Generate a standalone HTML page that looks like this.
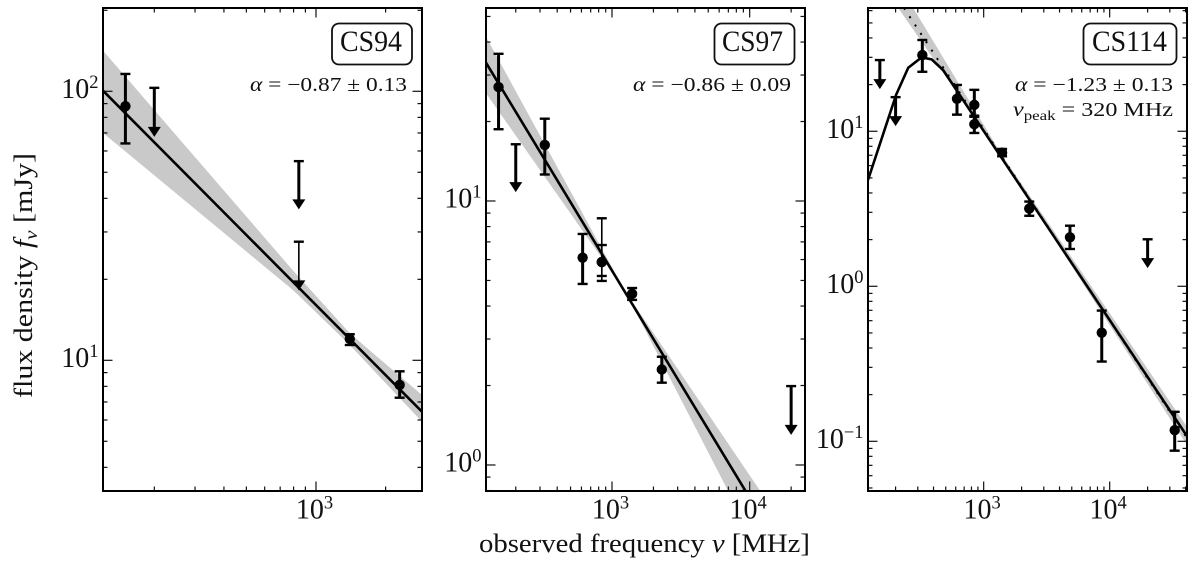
<!DOCTYPE html>
<html lang="en">
<head>
<meta charset="utf-8">
<title>Radio spectra of CS94, CS97 and CS114</title>
<style>
  html, body { margin: 0; padding: 0; background: #fff; }
  body { width: 1200px; height: 564px; overflow: hidden; }
  svg { display: block; }
  text { font-family: "Liberation Serif", "DejaVu Serif", serif; fill: #111; }
</style>
</head>
<body>
<svg id="fig" xmlns="http://www.w3.org/2000/svg" width="1200" height="564" viewBox="0 0 1200 564">
  <defs>
    <clipPath id="clip-cs94"><rect x="103" y="8" width="319" height="483"/></clipPath>
    <clipPath id="clip-cs97"><rect x="486" y="8" width="319" height="483"/></clipPath>
    <clipPath id="clip-cs114"><rect x="868" y="8" width="319" height="483"/></clipPath>
  </defs>
  <rect x="0" y="0" width="1200" height="564" fill="#fff"/>

  <text transform="translate(32,398) rotate(-90)" font-size="26" textLength="245" lengthAdjust="spacingAndGlyphs">flux density <tspan font-style="italic">f</tspan><tspan font-style="italic" font-size="18" dy="5">ν</tspan><tspan dy="-5"> [mJy]</tspan></text>
  <text x="479" y="552" font-size="26" textLength="331" lengthAdjust="spacingAndGlyphs">observed frequency <tspan font-style="italic">ν</tspan> [MHz]</text>

  <g id="panel-cs94"></g>
  <g id="panel-cs97"></g>
  <g id="panel-cs114"></g>

  <g>
    <rect x="332" y="23.5" width="80" height="41" rx="7" ry="7" fill="#fff" stroke="#111" stroke-width="1.8"/>
    <text x="340" y="51" font-size="30" textLength="62" lengthAdjust="spacingAndGlyphs">CS94</text>
  </g>
  <text x="250" y="91" font-size="20" textLength="157" lengthAdjust="spacingAndGlyphs"><tspan font-style="italic">α</tspan> = −0.87 ± 0.13</text>

  <g>
    <rect x="714.5" y="23.5" width="80" height="41" rx="7" ry="7" fill="#fff" stroke="#111" stroke-width="1.8"/>
    <text x="722" y="51" font-size="30" textLength="61" lengthAdjust="spacingAndGlyphs">CS97</text>
  </g>
  <text x="633" y="91" font-size="20" textLength="158" lengthAdjust="spacingAndGlyphs"><tspan font-style="italic">α</tspan> = −0.86 ± 0.09</text>

  <g>
    <rect x="1083.5" y="23.5" width="93" height="41" rx="7" ry="7" fill="#fff" stroke="#111" stroke-width="1.8"/>
    <text x="1092" y="51" font-size="30" textLength="75" lengthAdjust="spacingAndGlyphs">CS114</text>
  </g>
  <text x="1015" y="91" font-size="20" textLength="158" lengthAdjust="spacingAndGlyphs"><tspan font-style="italic">α</tspan> = −1.23 ± 0.13</text>
  <text x="1013" y="116" font-size="20" textLength="160" lengthAdjust="spacingAndGlyphs"><tspan font-style="italic">ν</tspan><tspan font-size="14" dy="4">peak</tspan><tspan dy="-4"> = 320 MHz</tspan></text>
</svg>

<script>
/* ---------- CS94 data (frequency in MHz, flux density in mJy) ---------- */
const cs94XTicks = [3];
const cs94YTicks = [1, 2];
const cs94ModelFreq = [120, 2873];
const cs94Model = [100.5, 6.44];
const cs94BandUpperFreq = [120, 798, 1400, 2873];
const cs94BandUpper = [141.6, 21.5, 12.6, 7.43];
const cs94BandLowerFreq = [120, 798, 1400, 2873];
const cs94BandLower = [70, 18.2, 11.4, 5.91];
const cs94DetFreq = [150, 1400, 2300];
const cs94DetFlux = [88, 12, 8.1];
const cs94DetHigh = [116, 12.5, 9.1];
const cs94DetLow = [64, 11.4, 7.26];
const cs94LimitFreq = [200, 843];
const cs94LimitTop = [103, 55];
const cs94LimitTip = [67.7, 36.4];
const cs94ThinLimitFreq = [843];
const cs94ThinLimitTop = [27.6];
const cs94ThinLimitTip = [18.2];

/* ---------- CS97 data ---------- */
const cs97XTicks = [3, 4];
const cs97YTicks = [0, 1];
const cs97ModelFreq = [121.6, 9290];
const cs97Model = [33.4, 0.80];
const cs97BandUpperFreq = [121.6, 1243, 11880];
const cs97BandUpper = [41.9, 4.56, 0.80];
const cs97BandLowerFreq = [121.6, 1243, 6950];
const cs97BandLower = [25.6, 4.56, 0.80];
const cs97DetFreq = [150, 325, 612, 1400, 2300];
const cs97DetFlux = [27, 16.3, 6.1, 4.45, 2.3];
const cs97DetHigh = [36.1, 20.5, 7.5, 4.68, 2.57];
const cs97DetLow = [18.7, 12.6, 4.85, 4.22, 2.05];
const cs97ThinDetFreq = [843, 843];
const cs97ThinDetFlux = [5.87, 5.87];
const cs97ThinDetHigh = [8.6, 6.81];
const cs97ThinDetLow = [4.98, 5.2];
const cs97LimitFreq = [200, 20000];
const cs97LimitTop = [16.4, 1.99];
const cs97LimitTip = [10.8, 1.30];

/* ---------- CS114 data ---------- */
const cs114XTicks = [3, 4];
const cs114YTicks = [-1, 0, 1];
const cs114ModelFreq = [120.8, 202, 252, 322, 386, 477, 41070];
const cs114Model = [4.85, 17.2, 25.7, 30, 29.1, 24.8, 0.108];
const cs114PowerFreq = [233, 41070];
const cs114Power = [62.4, 0.105];
const cs114BandUpperFreq = [276, 1396, 41070];
const cs114BandUpper = [62.4, 7.03, 0.124];
const cs114BandLowerFreq = [210, 1396, 41070];
const cs114BandLower = [62.4, 6.73, 0.0946];
const cs114DetFreq = [326, 614, 843, 843, 1400, 2300, 4840, 8650, 32800];
const cs114DetFlux = [31, 16.2, 14.8, 11.1, 7.28, 3.17, 2.07, 0.502, 0.118];
const cs114DetHigh = [38.8, 19.9, 18.5, 12.6, 7.69, 3.52, 2.46, 0.697, 0.155];
const cs114DetLow = [24.2, 12.8, 12.4, 9.75, 6.9, 2.85, 1.74, 0.327, 0.087];
const cs114LimitFreq = [150, 200, 20000];
const cs114LimitTop = [28.8, 16.6, 2.01];
const cs114LimitTip = [18.7, 10.8, 1.31];

/* ---------- drawing ---------- */
const NS = 'http://www.w3.org/2000/svg';

function mk(parent, tag, attrs) {
  const node = document.createElementNS(NS, tag);
  for (const k in attrs) node.setAttribute(k, attrs[k]);
  parent.appendChild(node);
  return node;
}

function makeAxes(box, xMin, xMax, yMin, yMax) {
  const lx0 = Math.log10(xMin), lx1 = Math.log10(xMax);
  const ly0 = Math.log10(yMin), ly1 = Math.log10(yMax);
  return {
    x: f => box.left + (Math.log10(f) - lx0) / (lx1 - lx0) * box.width,
    y: v => box.top + (ly1 - Math.log10(v)) / (ly1 - ly0) * box.height,
    xDecades: [Math.floor(lx0), Math.ceil(lx1)],
    yDecades: [Math.floor(ly0), Math.ceil(ly1)],
    xMin, xMax, yMin, yMax
  };
}

function pathFrom(xs, ys, ax) {
  return xs.map((f, i) => ax.x(f).toFixed(2) + ',' + ax.y(ys[i]).toFixed(2)).join(' ');
}

function drawBand(g, upF, up, loF, lo, ax, name) {
  const pts = pathFrom(upF, up, ax) + ' ' + pathFrom(loF.slice().reverse(), lo.slice().reverse(), ax);
  const band = mk(g, 'polygon', { points: pts, fill: '#c9c9c9', stroke: 'none' });
  
  
}

function drawCurve(g, xs, ys, ax, name, extra) {
  const curve = mk(g, 'polyline', Object.assign({ points: pathFrom(xs, ys, ax), fill: 'none', stroke: '#000', 'stroke-width': 2.6, 'stroke-linejoin': 'round' }, extra || {}));
  
  
}

function drawDetections(g, freq, flux, high, low, ax, name, barWidth) {
  freq.forEach((f, i) => {
    const grp = mk(g, 'g', {});
    
    
    const x = ax.x(f), yt = ax.y(high[i]), yb = ax.y(low[i]);
    mk(grp, 'line', { x1: x, x2: x, y1: yt, y2: yb, stroke: '#000', 'stroke-width': barWidth });
    mk(grp, 'line', { x1: x - 5, x2: x + 5, y1: yt, y2: yt, stroke: '#000', 'stroke-width': 2.4 });
    mk(grp, 'line', { x1: x - 5, x2: x + 5, y1: yb, y2: yb, stroke: '#000', 'stroke-width': 2.4 });
    mk(grp, 'circle', { cx: x, cy: ax.y(flux[i]), r: 5.2, fill: '#000' });
  });
}

function drawLimits(g, freq, top, tip, ax, name, barWidth) {
  freq.forEach((f, i) => {
    const grp = mk(g, 'g', {});
    
    
    const x = ax.x(f), yt = ax.y(top[i]), yp = ax.y(tip[i]);
    mk(grp, 'line', { x1: x, x2: x, y1: yt, y2: yp - 6, stroke: '#000', 'stroke-width': barWidth });
    mk(grp, 'line', { x1: x - 5, x2: x + 5, y1: yt, y2: yt, stroke: '#000', 'stroke-width': 2.4 });
    mk(grp, 'polygon', { points: (x - 6.5) + ',' + (yp - 10) + ' ' + (x + 6.5) + ',' + (yp - 10) + ' ' + x + ',' + yp, fill: '#000' });
  });
}

function drawTicks(root, box, ax, panel) {
  const g = mk(root, 'g', { stroke: '#111', 'stroke-width': 1.2 });
  
  
  const right = box.left + box.width, bottom = box.top + box.height;
  for (let d = ax.xDecades[0]; d <= ax.xDecades[1]; d++) {
    for (let m = 1; m < 10; m++) {
      const v = m * Math.pow(10, d);
      if (v < ax.xMin || v > ax.xMax) continue;
      const len = m === 1 ? 9.5 : 4.5, x = ax.x(v);
      mk(g, 'line', { x1: x, x2: x, y1: bottom, y2: bottom - len });
      mk(g, 'line', { x1: x, x2: x, y1: box.top, y2: box.top + len });
    }
  }
  for (let d = ax.yDecades[0]; d <= ax.yDecades[1]; d++) {
    for (let m = 1; m < 10; m++) {
      const v = m * Math.pow(10, d);
      if (v < ax.yMin || v > ax.yMax) continue;
      const len = m === 1 ? 9.5 : 4.5, y = ax.y(v);
      mk(g, 'line', { x1: box.left, x2: box.left + len, y1: y, y2: y });
      mk(g, 'line', { x1: right, x2: right - len, y1: y, y2: y });
    }
  }
}

function powerLabel(root, x, y, anchor, exponent, name) {
  const label = mk(root, 'text', { x: x, y: y, 'text-anchor': anchor, 'font-size': 28 });
  
  
  label.appendChild(document.createTextNode('10'));
  const sup = mk(label, 'tspan', { dy: -10, 'font-size': 18.5 });
  sup.textContent = String(exponent).replace('-', '\u2212');
}

function drawTickLabels(root, box, ax, xTicks, yTicks, panel) {
  const bottom = box.top + box.height;
  xTicks.forEach(e => {
    powerLabel(root, ax.x(Math.pow(10, e)) - 1.5, bottom + 27.5, 'middle', e, panel + '-x-tick-label-' + e);
  });
  yTicks.forEach(e => {
    powerLabel(root, box.left - 4.5, ax.y(Math.pow(10, e)) + 6.5, 'end', e, panel + '-y-tick-label-' + e);
  });
}

function drawFrame(root, box, panel) {
  const frame = mk(root, 'rect', { x: box.left, y: box.top, width: box.width, height: box.height, fill: 'none', stroke: '#000', 'stroke-width': 2 });
  
  
}

function clipGroup(root, panel) {
  const g = mk(root, 'g', { 'clip-path': 'url(#clip-' + panel + ')' });
  
  
  return g;
}

/* CS94 */
(function () {
  const box = { left: 103, top: 8, width: 319, height: 483 };
  const ax = makeAxes(box, 120, 2873, 3.267, 204);
  const root = document.getElementById('panel-cs94');
  const g = clipGroup(root, 'cs94');
  drawBand(g, cs94BandUpperFreq, cs94BandUpper, cs94BandLowerFreq, cs94BandLower, ax, 'cs94-fit-uncertainty-band');
  drawCurve(g, cs94ModelFreq, cs94Model, ax, 'cs94-power-law-fit');
  drawDetections(g, cs94DetFreq, cs94DetFlux, cs94DetHigh, cs94DetLow, ax, 'cs94-detection', 3);
  drawLimits(g, cs94LimitFreq, cs94LimitTop, cs94LimitTip, ax, 'cs94-upper-limit', 3);
  drawLimits(g, cs94ThinLimitFreq, cs94ThinLimitTop, cs94ThinLimitTip, ax, 'cs94-thin-upper-limit', 1.6);
  drawTicks(root, box, ax, 'cs94');
  drawFrame(root, box, 'cs94');
  drawTickLabels(root, box, ax, cs94XTicks, cs94YTicks, 'cs94');
})();

/* CS97 */
(function () {
  const box = { left: 486, top: 8, width: 319, height: 483 };
  const ax = makeAxes(box, 121.6, 25220, 0.797, 53.83);
  const root = document.getElementById('panel-cs97');
  const g = clipGroup(root, 'cs97');
  drawBand(g, cs97BandUpperFreq, cs97BandUpper, cs97BandLowerFreq, cs97BandLower, ax, 'cs97-fit-uncertainty-band');
  drawCurve(g, cs97ModelFreq, cs97Model, ax, 'cs97-power-law-fit');
  drawDetections(g, cs97DetFreq, cs97DetFlux, cs97DetHigh, cs97DetLow, ax, 'cs97-detection', 3);
  drawDetections(g, cs97ThinDetFreq, cs97ThinDetFlux, cs97ThinDetHigh, cs97ThinDetLow, ax, 'cs97-thin-detection', 1.6);
  drawLimits(g, cs97LimitFreq, cs97LimitTop, cs97LimitTip, ax, 'cs97-upper-limit', 3);
  drawTicks(root, box, ax, 'cs97');
  drawFrame(root, box, 'cs97');
  drawTickLabels(root, box, ax, cs97XTicks, cs97YTicks, 'cs97');
})();

/* CS114 */
(function () {
  const box = { left: 868, top: 8, width: 319, height: 483 };
  const ax = makeAxes(box, 120.8, 41070, 0.0478, 62.4);
  const root = document.getElementById('panel-cs114');
  const g = clipGroup(root, 'cs114');
  drawBand(g, cs114BandUpperFreq, cs114BandUpper, cs114BandLowerFreq, cs114BandLower, ax, 'cs114-fit-uncertainty-band');
  drawCurve(g, cs114PowerFreq, cs114Power, ax, 'cs114-dotted-power-law', { 'stroke-dasharray': '2 8', 'stroke-width': 2 });
  drawCurve(g, cs114ModelFreq, cs114Model, ax, 'cs114-peaked-spectrum-fit');
  drawDetections(g, cs114DetFreq, cs114DetFlux, cs114DetHigh, cs114DetLow, ax, 'cs114-detection', 3);
  drawLimits(g, cs114LimitFreq, cs114LimitTop, cs114LimitTip, ax, 'cs114-upper-limit', 3);
  drawTicks(root, box, ax, 'cs114');
  drawFrame(root, box, 'cs114');
  drawTickLabels(root, box, ax, cs114XTicks, cs114YTicks, 'cs114');
})();
</script>
</body>
</html>
